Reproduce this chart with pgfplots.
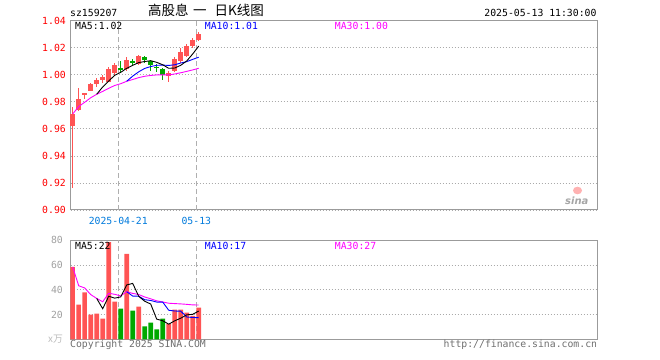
\documentclass[border=0pt]{standalone}
\usepackage{pgfplots}
\pgfplotsset{compat=1.18}
\usepackage{pgfplotstable}
\usepackage{fontspec}
\setmainfont{DejaVu Sans}
\newfontfamily\mono{DejaVu Sans Mono}
\newfontfamily\cjk{Noto Sans CJK SC}
\newfontfamily\wm{DejaVu Sans}
\definecolor{kred}{RGB}{255,84,84}
\definecolor{kgreen}{RGB}{0,168,0}
\definecolor{framec}{RGB}{155,155,155}
\definecolor{gridc}{RGB}{170,170,170}
\definecolor{dateblue}{RGB}{0,122,220}
\definecolor{mablue}{RGB}{0,0,255}
\definecolor{mamag}{RGB}{255,0,255}
\definecolor{vgray}{RGB}{160,160,160}
\definecolor{cgray}{RGB}{110,110,110}
\newcommand{\mf}{\mono\fontsize{9.8bp}{11bp}\selectfont}

\pgfplotstableread{
x o h l c
0 0.962 0.976 0.916 0.971
1 0.974 0.990 0.973 0.982
2 0.9855 0.986 0.982 0.9862
3 0.988 0.994 0.988 0.993
4 0.993 0.998 0.991 0.996
5 0.996 1.000 0.994 0.998
6 0.995 1.006 0.995 1.004
7 1.001 1.009 1.000 1.007
9 1.004 1.013 1.003 1.011
11 1.008 1.015 1.007 1.014
16 0.999 1.003 0.995 1.001
17 1.003 1.013 1.002 1.012
18 1.010 1.020 1.009 1.017
19 1.014 1.023 1.013 1.021
20 1.021 1.027 1.020 1.026
21 1.026 1.032 1.025 1.030
}\up
\pgfplotstableread{
x o h l c
8 1.005 1.010 1.001 1.004
10 1.010 1.012 1.007 1.009
12 1.013 1.014 1.009 1.011
13 1.010 1.011 1.003 1.007
14 1.006 1.008 1.002 1.005
15 1.004 1.005 0.996 1.000
}\down
\pgfplotstableread{
x v
0 58.5
1 28.0
2 38.0
3 20.0
4 20.7
5 16.8
6 78.5
7 30.4
9 69.0
11 26.4
16 12.4
17 24.0
18 24.0
19 21.6
20 19.0
21 25.5
}\vup
\pgfplotstableread{
x v
8 24.8
10 23.2
12 10.4
13 13.5
14 8.0
15 16.8
}\vdown

\pgfplotsset{
  kbase/.style={
    scale only axis, width=526.6bp,
    xmin=-0.333, xmax=87.43,
    axis line style={draw=framec, line width=1bp},
    tick style={draw=none}, major tick length=0pt,
    xtick=\empty,
    ymajorgrids,
    grid style={draw=gridc, line width=0.8bp, dash pattern=on 1bp off 2bp},
    clip=false,
  },
  wick/.style={draw=none, mark=none, forget plot,
    error bars/.cd, y dir=both, y explicit, error mark=none,
    error bar style={draw=#1, line width=1bp, line cap=butt}},
  body/.style={draw=none, mark=none, forget plot,
    error bars/.cd, y dir=both, y explicit, error mark=none,
    error bar style={draw=#1, line width=4.5bp, line cap=butt}},
}

\begin{document}
\begin{tikzpicture}
\path[use as bounding box] (0,0) rectangle (660bp,360bp);

% ---------- price panel ----------
\begin{axis}[kbase,
  at={(70.7bp,150bp)}, anchor=south west, height=189.3bp,
  ymin=0.90, ymax=1.04,
  ytick={0.90,0.92,0.94,0.96,0.98,1.00,1.02,1.04},
  yticklabels={0.90,0.92,0.94,0.96,0.98,1.00,1.02,1.04},
  yticklabel style={font=\mf, text=red, inner sep=0pt, xshift=-4.7bp},
  extra x ticks={7.6,20.6},
  extra x tick labels={2025-04-21,05-13},
  extra x tick style={grid=major,
    major grid style={draw=framec!80, line width=1bp, dash pattern=on 5bp off 3bp},
    xticklabel style={font=\mf, text=dateblue, inner sep=0pt, yshift=-7bp}},
]
\addplot[wick=kred] table[x=x, y expr={(\thisrow{h}+\thisrow{l})/2}, y error expr={(\thisrow{h}-\thisrow{l})/2}] {\up};
\addplot[body=kred] table[x=x, y expr={(\thisrow{o}+\thisrow{c})/2}, y error expr={abs(\thisrow{c}-\thisrow{o})/2}] {\up};
\addplot[wick=kgreen] table[x=x, y expr={(\thisrow{h}+\thisrow{l})/2}, y error expr={(\thisrow{h}-\thisrow{l})/2}] {\down};
\addplot[body=kgreen] table[x=x, y expr={(\thisrow{o}+\thisrow{c})/2}, y error expr={abs(\thisrow{c}-\thisrow{o})/2}] {\down};
% MA30 (magenta)
\addplot[mamag, line width=0.9bp, mark=none] coordinates {
(0,0.9710)(1,0.9765)(2,0.9797)(3,0.9830)(4,0.9856)(5,0.9877)(6,0.9900)(7,0.9921)
(8,0.9934)(9,0.9952)(10,0.9965)(11,0.9979)(12,0.9989)(13,0.9995)(14,0.9999)
(15,0.9999)(16,0.9999)(17,1.0006)(18,1.0015)(19,1.0025)(20,1.0036)(21,1.0048)};
% MA10 (blue)
\addplot[mablue, line width=0.9bp, mark=none] coordinates {
(9,0.9952)(10,0.9990)(11,1.0022)(12,1.0047)(13,1.0061)(14,1.0070)(15,1.0072)
(16,1.0069)(17,1.0074)(18,1.0087)(19,1.0097)(20,1.0114)(21,1.0130)};
% MA5 (black)
\addplot[black, line width=0.9bp, mark=none] coordinates {
(4,0.9856)(5,0.9910)(6,0.9954)(7,0.9996)(8,1.0018)(9,1.0048)(10,1.0070)(11,1.0090)
(12,1.0098)(13,1.0104)(14,1.0092)(15,1.0074)(16,1.0048)(17,1.0050)(18,1.0070)
(19,1.0102)(20,1.0154)(21,1.0212)};
\end{axis}

% ---------- volume panel ----------
\begin{axis}[kbase,
  at={(70.7bp,20.7bp)}, anchor=south west, height=99bp,
  ymin=0, ymax=80,
  ytick={0,20,40,60,80},
  yticklabels={{\cjk\color{vgray!70}x万},20,40,60,80},
  yticklabel style={font=\mf, text=vgray, inner sep=0pt, xshift=-7.7bp},
  extra x ticks={7.6,20.6},
  extra x tick labels={},
  extra x tick style={grid=major,
    major grid style={draw=framec!80, line width=1bp, dash pattern=on 5bp off 3bp}},
]
\addplot[ybar, bar width=4.6bp, bar shift=0pt, fill=kred, draw=none, forget plot] table[x=x, y=v] {\vup};
\addplot[ybar, bar width=4.6bp, bar shift=0pt, fill=kgreen, draw=none, forget plot] table[x=x, y=v] {\vdown};
\addplot[mamag, line width=0.9bp, mark=none] coordinates {
(0,58.5)(1,43.25)(2,41.50)(3,36.13)(4,33.04)(5,30.33)(6,37.21)(7,36.36)(8,35.08)
(9,38.47)(10,37.08)(11,36.19)(12,34.21)(13,32.73)(14,31.08)(15,30.19)(16,29.14)
(17,28.86)(18,28.60)(19,28.25)(20,27.81)(21,27.70)};
\addplot[mablue, line width=0.9bp, mark=none] coordinates {
(9,38.47)(10,34.94)(11,34.78)(12,32.02)(13,31.37)(14,30.10)(15,30.10)(16,23.49)
(17,22.85)(18,22.77)(19,18.03)(20,17.61)(21,17.52)};
\addplot[black, line width=0.9bp, mark=none] coordinates {
(4,33.04)(5,24.70)(6,34.80)(7,33.28)(8,34.24)(9,43.90)(10,45.18)(11,34.76)
(12,30.76)(13,28.50)(14,16.30)(15,15.02)(16,12.22)(17,14.94)(18,17.04)(19,19.76)
(20,20.20)(21,22.82)};
\end{axis}

% ---------- texts ----------
\node[anchor=base west, inner sep=0pt] at (70bp,343.2bp) {\mf sz159207};
\node[anchor=base, inner sep=0pt] at (206bp,344bp) {\cjk\fontsize{13.5bp}{13.5bp}\selectfont 高股息\hspace{4.5bp}一\hspace{8bp}日K线图};
\node[anchor=base east, inner sep=0pt] at (596.7bp,343.2bp) {\mf 2025-05-13 11:30:00};

\node[anchor=base west, inner sep=0pt] at (75bp,330.7bp) {\mf MA5:1.02};
\node[anchor=base west, inner sep=0pt, text=mablue] at (204.7bp,330.7bp) {\mf MA10:1.01};
\node[anchor=base west, inner sep=0pt, text=mamag] at (334.7bp,330.7bp) {\mf MA30:1.00};

\node[anchor=base west, inner sep=0pt] at (75bp,110bp) {\mf MA5:22};
\node[anchor=base west, inner sep=0pt, text=mablue] at (204.7bp,110bp) {\mf MA10:17};
\node[anchor=base west, inner sep=0pt, text=mamag] at (334.7bp,110bp) {\mf MA30:27};

\node[anchor=base west, inner sep=0pt, text=cgray] at (70bp,13bp) {\mf Copyright 2025 SINA.COM};
\node[anchor=base east, inner sep=0pt, text=cgray] at (597.3bp,13bp) {\mf http://finance.sina.com.cn};

% watermark
\fill[kred!45] (577.5bp,169.5bp) ellipse (4.5bp and 3.8bp);
\node[anchor=base west, inner sep=0pt, text=black!35] at (565bp,155.7bp) {\wm\fontsize{10bp}{10bp}\selectfont\bfseries\itshape sina};
\end{tikzpicture}
\end{document}
